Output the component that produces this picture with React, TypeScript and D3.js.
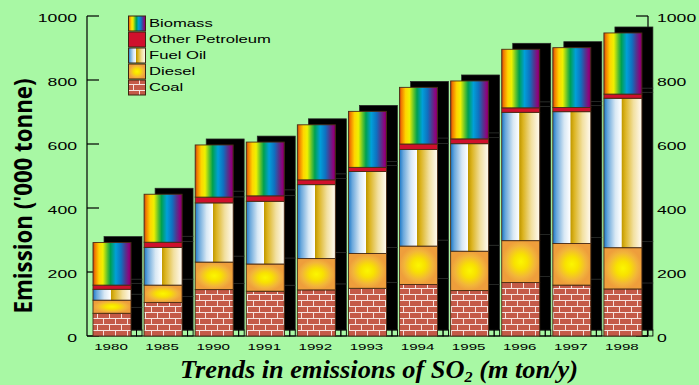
import React from "react";
import * as d3 from "d3";

// Emission of SO2 by fuel source ('000 tonne)
const years = ["1980", "1985", "1990", "1991", "1992", "1993", "1994", "1995", "1996", "1997", "1998"];
const coal = [71, 105, 145, 140, 144, 149, 161, 142, 167, 159, 147];
const diesel = [41, 54, 86, 85, 98, 109, 120, 123, 131, 130, 129];
const fuelOil = [34, 118, 185, 196, 231, 256, 302, 336, 401, 412, 467];
const otherPetroleum = [13, 16, 18, 17, 15, 13, 17, 15, 14, 13, 13];
const biomass = [133, 150, 163, 168, 172, 175, 177, 181, 183, 187, 191];

const seriesNames = ["Coal", "Diesel", "Fuel Oil", "Other Petroleum", "Biomass"];
const seriesValues = [coal, diesel, fuelOil, otherPetroleum, biomass];
const legendOrder = ["Biomass", "Other Petroleum", "Fuel Oil", "Diesel", "Coal"];
const yTicks = [0, 200, 400, 600, 800, 1000];

const W = 699;
const H = 385;
const BG = "#a8f8a4";
const FILLS: Record<string, string> = {
  Coal: "url(#brick)",
  Diesel: "url(#dieselGrad)",
  "Fuel Oil": "url(#fuelGrad)",
  "Other Petroleum": "#d0102c",
  Biomass: "url(#rainbow)",
};

export default function App() {
  const x = d3.scaleBand<string>().domain(years).range([87, 649]);
  const y = d3.scaleLinear().domain([0, 1000]).range([336, 16]);
  const barOffset = 6;
  const barW = 38;
  const depthX = 11;
  const depthY = 6;
  const x0 = 87;
  const x1 = 648;

  const rows = years.map((yr, i) => {
    const r: Record<string, number | string> = { year: yr };
    seriesNames.forEach((s, k) => (r[s] = seriesValues[k][i]));
    return r;
  });
  const stacked = d3.stack<Record<string, number | string>>().keys(seriesNames)(rows as any);

  const wide = (
    txt: string,
    tx: number,
    ty: number,
    size: number,
    sx: number,
    anchor: "start" | "middle" | "end" = "start"
  ) => (
    <text
      transform={`translate(${tx},${ty}) scale(${sx},1)`}
      fontFamily="'Liberation Sans', Arial, sans-serif"
      fontSize={size}
      textAnchor={anchor}
      fill="#000"
    >
      {txt}
    </text>
  );

  return (
    <svg
      width={W}
      height={H}
      style={{ position: "absolute", left: 0, top: 0, display: "block" }}
      xmlns="http://www.w3.org/2000/svg"
    >
      <defs>
        <linearGradient id="rainbow" x1="0" y1="0" x2="1" y2="0">
          <stop offset="0" stopColor="#b83a10" />
          <stop offset="0.05" stopColor="#f07a00" />
          <stop offset="0.16" stopColor="#ffd400" />
          <stop offset="0.26" stopColor="#eef000" />
          <stop offset="0.38" stopColor="#58c030" />
          <stop offset="0.46" stopColor="#00a050" />
          <stop offset="0.6" stopColor="#00a0d8" />
          <stop offset="0.74" stopColor="#1070c0" />
          <stop offset="0.85" stopColor="#503890" />
          <stop offset="0.95" stopColor="#90007c" />
          <stop offset="1" stopColor="#70005e" />
        </linearGradient>
        <linearGradient id="fuelGrad" x1="0" y1="0" x2="1" y2="0">
          <stop offset="0" stopColor="#1a78c8" />
          <stop offset="0.1" stopColor="#6aa8dc" />
          <stop offset="0.3" stopColor="#d8e8f4" />
          <stop offset="0.46" stopColor="#ffffff" />
          <stop offset="0.47" stopColor="#c09800" />
          <stop offset="0.56" stopColor="#dcb420" />
          <stop offset="0.78" stopColor="#f2e0a0" />
          <stop offset="1" stopColor="#fffaf2" />
        </linearGradient>
        <radialGradient id="dieselGrad" cx="0.5" cy="0.5" r="0.5">
          <stop offset="0" stopColor="#fcf600" />
          <stop offset="0.35" stopColor="#f8e200" />
          <stop offset="0.75" stopColor="#f2b53a" />
          <stop offset="1" stopColor="#ee9e3c" />
        </radialGradient>
        <pattern id="brick" width="12" height="12" patternUnits="userSpaceOnUse">
          <rect width="12" height="12" fill="#c45a48" />
          <line x1="0" y1="0.5" x2="12" y2="0.5" stroke="#f6e2de" strokeWidth="1" />
          <line x1="0" y1="6.5" x2="12" y2="6.5" stroke="#f6e2de" strokeWidth="1" />
          <line x1="1.5" y1="0" x2="1.5" y2="6" stroke="#f6e2de" strokeWidth="1" />
          <line x1="7.5" y1="6" x2="7.5" y2="12" stroke="#f6e2de" strokeWidth="1" />
        </pattern>
      </defs>

      <rect x={0} y={0} width={W} height={H} fill={BG} />

      {/* axes */}
      <g stroke="#000" strokeWidth={1.2} fill="none">
        <line x1={x0} y1={y(1000)} x2={x0} y2={y(0)} />
        <line x1={x1} y1={y(1000)} x2={x1} y2={y(0)} />
        <line x1={x0} y1={y(0)} x2={x1} y2={y(0)} />
        {yTicks.map((t) => (
          <g key={t}>
            <line x1={x0} y1={y(t)} x2={x0 + 12} y2={y(t)} />
            <line x1={x1 - 12} y1={y(t)} x2={x1} y2={y(t)} />
          </g>
        ))}
      </g>

      {/* shaded depth behind each bar */}
      {years.map((yr) => {
        const bx = (x(yr) as number) + barOffset;
        return (
          <g key={"sh" + yr}>
            {stacked.map((layer) => {
              const d = layer.find((p) => p.data.year === yr)!;
              return (
                <rect
                  key={layer.key}
                  x={bx + depthX}
                  y={y(d[1]) - depthY}
                  width={barW}
                  height={y(d[0]) - y(d[1])}
                  fill="#000"
                  stroke="#2a2a2a"
                  strokeWidth={0.7}
                />
              );
            })}
            <rect x={bx + barW} y={y(0) - depthY} width={depthX / 2} height={depthY} fill="none" stroke="#000" strokeWidth={0.9} />
            <rect x={bx + barW + depthX / 2} y={y(0) - depthY} width={depthX / 2} height={depthY} fill="none" stroke="#000" strokeWidth={0.9} />
          </g>
        );
      })}

      {/* stacked front bars */}
      {stacked.map((layer) => (
        <g key={layer.key}>
          {layer.map((d) => (
            <rect
              key={d.data.year as string}
              x={(x(d.data.year as string) as number) + barOffset}
              y={y(d[1])}
              width={barW}
              height={y(d[0]) - y(d[1])}
              fill={FILLS[layer.key]}
              stroke="#4a2c14"
              strokeWidth={0.9}
            />
          ))}
        </g>
      ))}

      {/* tick labels */}
      {yTicks.map((t) => (
        <g key={"lab" + t}>
          {wide(String(t), 77, y(t) + 5.5, 10.7, 1.65, "end")}
          {wide(String(t), 657, y(t) + 5.5, 10.7, 1.65, "start")}
        </g>
      ))}
      {years.map((yr) =>
        <g key={"xl" + yr}>{wide(yr, (x(yr) as number) + barOffset + barW / 2 - 1, 349.5, 8.4, 1.8, "middle")}</g>
      )}

      {/* legend */}
      {legendOrder.map((name, i) => (
        <g key={"lg" + name}>
          <rect x={128.5} y={16 + i * 16} width={17} height={15} fill={FILLS[name]} stroke="#3a2410" strokeWidth={1} />
          {wide(name, 149, 27.3 + i * 16, 10.4, 1.6, "start")}
        </g>
      ))}

      {/* axis title */}
      <text
        transform={`translate(32,196) rotate(-90)`}
        fontFamily="'Open Sans', 'Liberation Sans', sans-serif"
        fontWeight="bold"
        fontSize={25}
        textAnchor="middle"
        textLength={235}
        lengthAdjust="spacingAndGlyphs"
        fill="#000"
      >
        Emission ('000 tonne)
      </text>

      {/* chart caption */}
      <text
        x={180}
        y={377.5}
        fontFamily="'Liberation Serif', 'Times New Roman', serif"
        fontWeight="bold"
        fontStyle="italic"
        fontSize={24.5}
        textLength={398}
        lengthAdjust="spacingAndGlyphs"
        fill="#000"
      >
        Trends in emissions of SO
        <tspan fontSize={15} dy={4}>2</tspan>
        <tspan dy={-4}> (m ton/y)</tspan>
      </text>
    </svg>
  );
}
